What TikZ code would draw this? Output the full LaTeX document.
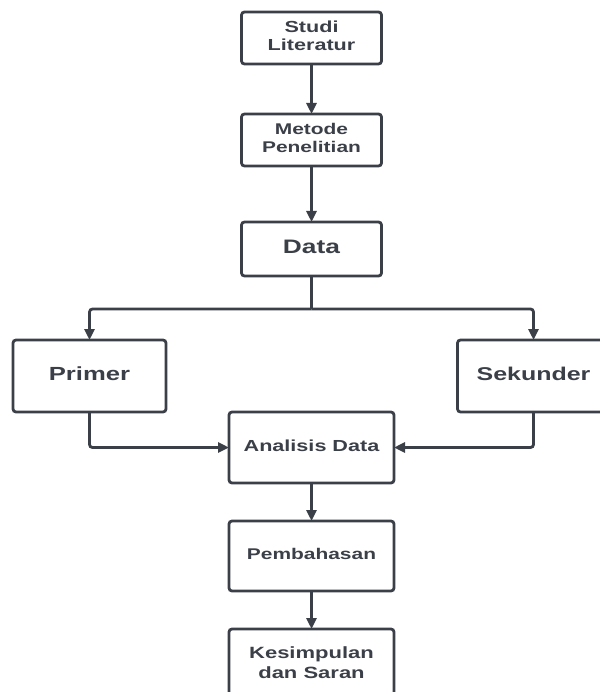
\documentclass[tikz,border=0pt]{standalone}
\usepackage{fontspec}
\setmainfont{Liberation Sans}
\usepackage{graphicx}
\usetikzlibrary{arrows.meta}
\definecolor{ink}{HTML}{3B3F48}
\newcommand\wtxt[3]{\fontsize{#1}{#2}\selectfont\bfseries\scalebox{1.35}[1]{\begin{tabular}{@{}c@{}}#3\end{tabular}}}
\tikzset{
  box/.style={draw=ink, line width=2.8pt, rounded corners=3pt, rectangle, text=ink, inner sep=0pt, outer sep=0pt},
  arr/.style={draw=ink, line width=2.8pt, rounded corners=3pt, -{Triangle[length=11pt,width=10pt]}},
  ln/.style={draw=ink, line width=2.8pt}
}
\begin{document}
\begin{tikzpicture}[x=1pt,y=-1pt]
\useasboundingbox (0,0) rectangle (599,692);
\node[box, minimum width=140pt, minimum height=52pt] (studi) at (311.5,38) {\wtxt{16}{17.5}{Studi\\Literatur}};
\node[box, minimum width=140pt, minimum height=52pt] (metode) at (311.5,140) {\wtxt{15.5}{17.5}{Metode\\Penelitian}};
\node[box, minimum width=140pt, minimum height=54pt] (data) at (311.5,249) {\wtxt{19.5}{22}{Data}};
\node[box, minimum width=153pt, minimum height=72pt] (primer) at (89.5,376) {\wtxt{19}{22}{Primer}};
\node[box, minimum width=152pt, minimum height=72pt] (sekunder) at (533.5,376) {\wtxt{18.5}{22}{Sekunder}};
\node[box, minimum width=165pt, minimum height=71pt] (analisis) at (311.5,447.5) {\wtxt{16}{19}{Analisis Data}};
\node[box, minimum width=165pt, minimum height=70pt] (pembahasan) at (311.5,556) {\wtxt{15.5}{18}{Pembahasan}};
\node[box, minimum width=165pt, minimum height=70pt] (kesimpulan) at (311.5,664) {\wtxt{16.3}{20}{Kesimpulan\\dan Saran}};
\coordinate (split) at (311.5,309);
\draw[arr] (studi) -- (metode);
\draw[arr] (metode) -- (data);
\draw[ln] (data.south) -- (split);
\draw[arr] (split) -| (primer.north);
\draw[arr] (split) -| (sekunder.north);
\draw[arr] (primer.south) |- (analisis.west);
\draw[arr] (sekunder.south) |- (analisis.east);
\draw[arr] (analisis) -- (pembahasan);
\draw[arr] (pembahasan) -- (kesimpulan);
\end{tikzpicture}
\end{document}
